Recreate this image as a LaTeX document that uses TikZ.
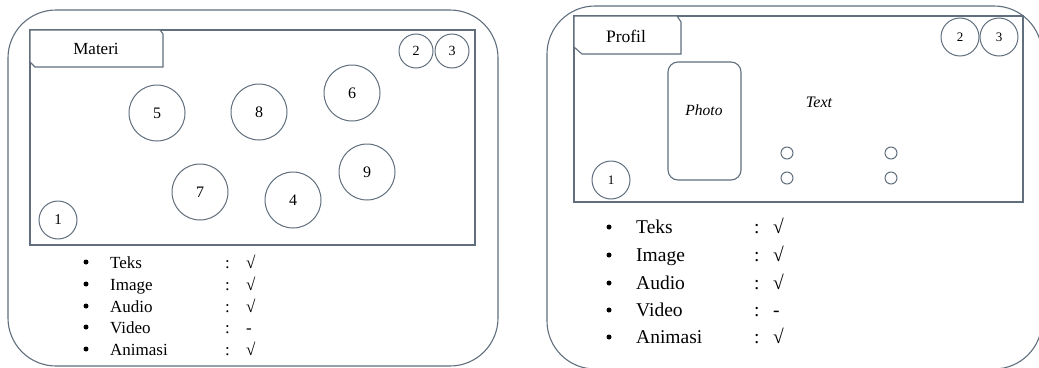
\documentclass[tikz,border=0pt]{standalone}
\usepackage{fontspec}
\setmainfont{Liberation Serif}
\definecolor{frame}{RGB}{96,110,126}
\begin{document}
\begin{tikzpicture}[x=1pt,y=-1pt,
  outerframe/.style={draw=frame, line width=1.1pt, rounded corners=48pt},
  screen/.style={draw=frame, line width=1.1pt},
  tabshape/.style={draw=frame, line width=1.1pt, fill=white},
  btn/.style={circle, draw=frame, line width=1pt, inner sep=0pt},
  smallbtn/.style={circle, draw=frame, line width=1pt, inner sep=0pt, minimum size=12pt},
  dot/.style={circle, fill=black, inner sep=0pt, minimum size=5pt},
  itemA/.style={anchor=base west, inner sep=0pt, font=\fontsize{17}{17}\selectfont},
  itemB/.style={anchor=base west, inner sep=0pt, font=\fontsize{19.5}{19.5}\selectfont}]
\useasboundingbox (0,0) rectangle (1039,367);

% ---------- Materi page ----------
\draw[outerframe] (8,10) rectangle (498,366);
\draw[screen] (30,30) rectangle (475,245);
\draw[tabshape] (30,30) -- (160,30) -- (163,34) -- (163,67) -- (35,67) -- (30,62) -- cycle;
\node[font=\fontsize{17}{17}\selectfont] (materi) at (96,49) {Materi};

\node[btn, minimum size=34pt, font=\fontsize{14}{14}\selectfont] (m2) at (416,51) {2};
\node[btn, minimum size=34pt, font=\fontsize{14}{14}\selectfont] (m3) at (452,51) {3};
\node[btn, minimum size=38pt, font=\fontsize{15}{15}\selectfont] (m1) at (58,220) {1};
\foreach \n/\x/\y in {6/352/93, 5/157/113, 8/259/112, 9/367/172, 7/200/192, 4/293/200}
  \node[btn, minimum size=56pt, font=\fontsize{16}{16}\selectfont] (m\n) at (\x,\y) {\n};

\foreach \i/\t/\v/\y in {1/Teks/√/268, 2/Image/√/290, 3/Audio/√/312, 4/Video/-/333, 5/Animasi/√/355}{
  \node[dot] (mb\i) at (86,\y-6) {};
  \node[itemA] (ml\i) at (110,\y) {\t};
  \node[itemA] (mc\i) at (225,\y) {:};
  \node[itemA] (mv\i) at (246,\y) {\v};
}

% ---------- Profil page ----------
\draw[outerframe] (547,6) rectangle (1042,369);
\draw[screen] (574,16) rectangle (1023,202);
\draw[tabshape] (574,16) -- (677,16) -- (681,22) -- (681,54) -- (582,54) -- (574,47) -- cycle;
\node[font=\fontsize{17.5}{17.5}\selectfont] (profil) at (626,36) {Profil};

\node[btn, minimum size=38pt, font=\fontsize{13}{13}\selectfont] (p2) at (960,37) {2};
\node[btn, minimum size=38pt, font=\fontsize{13}{13}\selectfont] (p3) at (999,37) {3};
\node[btn, minimum size=38pt, font=\fontsize{13}{13}\selectfont] (p1) at (611,180) {1};

\node[draw=frame, line width=1.1pt, rounded corners=10pt, minimum width=73pt, minimum height=118pt,
      inner sep=0pt] (photo) at (704.5,121) {};
\node[font=\itshape\fontsize{15.5}{15.5}\selectfont] (phototext) at (704,110) {Photo};
\node[font=\itshape\fontsize{16}{16}\selectfont] (text) at (819,102) {Text};

\node[smallbtn] (o1) at (787,153) {};
\node[smallbtn] (o2) at (787,178) {};
\node[smallbtn] (o3) at (891,153) {};
\node[smallbtn] (o4) at (891,178) {};

\foreach \i/\t/\v/\y in {1/Teks/√/233, 2/Image/√/261, 3/Audio/√/289, 4/Video/-/316, 5/Animasi/√/343}{
  \node[dot] (pb\i) at (609,\y-6) {};
  \node[itemB] (pl\i) at (636,\y) {\t};
  \node[itemB] (pc\i) at (754,\y) {:};
  \node[itemB] (pv\i) at (773,\y) {\v};
}
\end{tikzpicture}
\end{document}
